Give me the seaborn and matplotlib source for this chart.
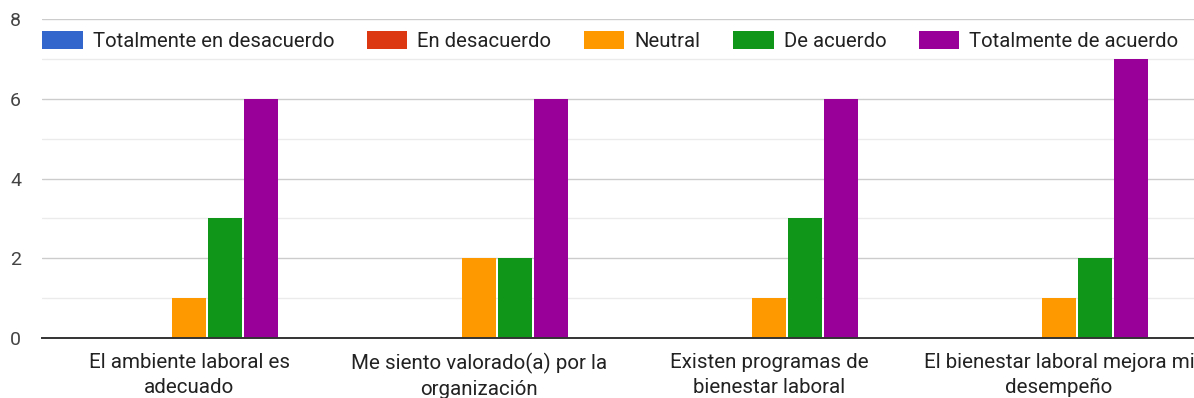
import matplotlib
matplotlib.use("Agg")
import matplotlib.pyplot as plt
import seaborn as sns
import pandas as pd
from matplotlib.ticker import MultipleLocator

# Survey statements (x categories) and Likert response counts
statements = [
    "El ambiente laboral es\nadecuado",
    "Me siento valorado(a) por la\norganización",
    "Existen programas de\nbienestar laboral",
    "El bienestar laboral mejora mi\ndesempeño",
]
responses = [
    "Totalmente en desacuerdo",
    "En desacuerdo",
    "Neutral",
    "De acuerdo",
    "Totalmente de acuerdo",
]
totalmente_desacuerdo = [0, 0, 0, 0]
en_desacuerdo = [0, 0, 0, 0]
neutral = [1, 2, 1, 1]
de_acuerdo = [3, 2, 3, 2]
totalmente_acuerdo = [6, 6, 6, 7]
colors = ["#3366cc", "#dc3912", "#ff9900", "#109618", "#990099"]

series = [totalmente_desacuerdo, en_desacuerdo, neutral, de_acuerdo, totalmente_acuerdo]
rows = []
for resp, vals in zip(responses, series):
    for stmt, v in zip(statements, vals):
        rows.append({"Pregunta": stmt, "Respuesta": resp, "Cantidad": v})
df = pd.DataFrame(rows)

sns.set_theme(style="white")
plt.rcParams["font.family"] = ["Roboto", "DejaVu Sans"]

W, H = 1194, 398
fig = plt.figure(figsize=(W / 100, H / 100), dpi=100)
left, right, bottom, top = 42, 1204, 338, 19
ax = fig.add_axes([left / W, (H - bottom) / H, (right - left) / W, (bottom - top) / H])

sns.barplot(
    data=df, x="Pregunta", y="Cantidad", hue="Respuesta",
    order=statements, hue_order=responses, palette=colors,
    width=0.62, gap=0.06, linewidth=0, saturation=1, ax=ax, legend=True,
)

ax.set_xlim(-0.507, 3.5)
ax.set_ylim(0, 8)
ax.yaxis.set_major_locator(MultipleLocator(2))
ax.yaxis.set_minor_locator(MultipleLocator(1))
ax.grid(axis="y", which="major", color="#cccccc", linewidth=1.0)
ax.grid(axis="y", which="minor", color="#ebebeb", linewidth=1.0)
ax.set_axisbelow(True)
for s in ["top", "right", "left"]:
    ax.spines[s].set_visible(False)
ax.spines["bottom"].set_color("#333333")
ax.spines["bottom"].set_linewidth(1.4)
ax.set_xlabel("")
ax.set_ylabel("")
ax.tick_params(axis="y", which="both", length=0, pad=15, labelsize=14, labelcolor="#444444")
ax.tick_params(axis="x", length=0, pad=11, labelsize=14.8, labelcolor="#222222")
for lbl in ax.get_xticklabels():
    lbl.set_linespacing(1.38)

handles, labels = ax.get_legend_handles_labels()
ax.legend(
    handles, labels, ncol=5, loc="upper left",
    bbox_to_anchor=(38 / W, 1 - 27 / H), bbox_transform=fig.transFigure,
    frameon=False, fontsize=14.6, handlelength=2.0, handleheight=0.95,
    handletextpad=0.5, columnspacing=1.6, borderaxespad=0, borderpad=0.2,
    labelcolor="#222222",
)

fig.savefig("out.png", dpi=100)
